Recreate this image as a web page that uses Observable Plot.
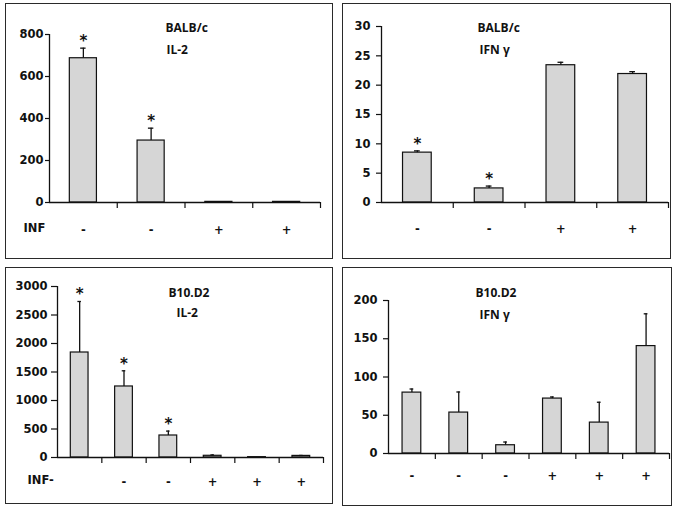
<!DOCTYPE html>
<html><head><meta charset="utf-8">
<script src="https://cdn.jsdelivr.net/npm/d3@7"></script>
<script src="https://cdn.jsdelivr.net/npm/@observablehq/plot@0.6"></script>
<style>
body{margin:0;background:#fff;width:675px;height:509px;position:relative;overflow:hidden;font-family:"DejaVu Sans",sans-serif}
.frame{position:absolute;border:1.5px solid #2a2a2a;box-sizing:border-box}
.panel{position:absolute}
.panel svg{overflow:visible}
</style></head><body>
<script>
// Panel A: BALB/c IL-2
const balbIl2Labels = ["-", "-", "+", "+"];
const balbIl2Values = [687, 295, 3, 3];
const balbIl2Upper  = [735, 354, 3, 3];
const balbIl2Stars  = [true, true, false, false];
const balbIl2Ticks  = [0, 200, 400, 600, 800];

// Panel B: BALB/c IFN gamma
const balbIfnLabels = ["-", "-", "+", "+"];
const balbIfnValues = [8.5, 2.4, 23.4, 21.9];
const balbIfnUpper  = [8.8, 2.8, 23.9, 22.3];
const balbIfnStars  = [true, true, false, false];
const balbIfnTicks  = [0, 5, 10, 15, 20, 25, 30];

// Panel C: B10.D2 IL-2
const b10Il2Labels = ["", "-", "-", "+", "+", "+"];
const b10Il2Values = [1842, 1246, 386, 30, 6, 28];
const b10Il2Upper  = [2737, 1521, 463, 45, 6, 36];
const b10Il2Stars  = [true, true, true, false, false, false];
const b10Il2Ticks  = [0, 500, 1000, 1500, 2000, 2500, 3000];

// Panel D: B10.D2 IFN gamma
const b10IfnLabels = ["-", "-", "-", "+", "+", "+"];
const b10IfnValues = [79.6, 53.5, 10.8, 71.8, 40.4, 140.4];
const b10IfnUpper  = [84.3, 80.4, 15, 73.9, 67, 182.6];
const b10IfnStars  = [false, false, false, false, false, false];
const b10IfnTicks  = [0, 50, 100, 150, 200];

const tickFont = {fontFamily: "DejaVu Sans", fontSize: 11.5, fontWeight: "bold"};
const titleFont = {fontFamily: "Open Sans", fontSize: 12, fontWeight: "bold"};

function drawPanel(cfg) {
  const n = cfg.values.length;
  const rows = cfg.values.map((v, i) => ({i, v, up: cfg.upper[i], star: cfg.stars[i], label: cfg.labels[i]}));
  const errs = rows.filter(d => d.up > d.v);
  const yMax = cfg.ticks[cfg.ticks.length - 1];
  const ink = "#111";
  const marks = [
    Plot.axisY({ticks: cfg.ticks, tickSize: cfg.yTickSize, tickPadding: cfg.yTickPad, label: null, tickFormat: d3.format("d"), stroke: ink, strokeWidth: 1.2, fill: ink, ...tickFont}),
    Plot.rectY(rows, {x1: d => d.i + 0.3, x2: d => d.i + 0.7, y1: 0, y2: "v", fill: "#d6d6d6", stroke: ink, strokeWidth: 1.2}),
    Plot.ruleX(errs, {x: d => d.i + 0.5, y1: "v", y2: "up", stroke: ink, strokeWidth: 1.3}),
    Plot.ruleY(errs, {y: "up", x1: d => d.i + 0.46, x2: d => d.i + 0.54, stroke: ink, strokeWidth: 1.3}),
    Plot.ruleX([0], {y1: 0, y2: yMax, stroke: ink, strokeWidth: 1.3}),
    Plot.ruleY([0], {stroke: ink, strokeWidth: 1.3}),
    Plot.axisX({ticks: d3.range(1, n + 1), tickSize: 6, tickFormat: () => "", label: null, stroke: ink, strokeWidth: 1.2}),
    Plot.axisX({ticks: rows.map(d => d.i + 0.5), tickSize: 0, tickPadding: cfg.labelPad, tickFormat: d => rows[Math.floor(d)].label, label: null, fill: ink, ...tickFont}),
    Plot.text(rows.filter(d => d.star), {x: d => d.i + 0.5, y: "up", text: () => "*", dy: -7, fontSize: 15, fontFamily: "DejaVu Sans", fontWeight: "bold", fill: ink}),
    Plot.text([cfg.title1], {frameAnchor: "top-left", textAnchor: "start", dx: cfg.t1[0], dy: cfg.t1[1], fill: ink, ...titleFont}),
    Plot.text([cfg.title2], {frameAnchor: "top-left", textAnchor: "start", dx: cfg.t2[0], dy: cfg.t2[1], fill: ink, ...titleFont})
  ];
  if (cfg.rowLabel) {
    marks.push(Plot.text([cfg.rowLabel], {frameAnchor: "bottom-left", textAnchor: "start", dx: cfg.rl[0], dy: cfg.rl[1], fill: ink, ...tickFont}));
  }
  const svg = Plot.plot({
    width: cfg.w, height: cfg.h,
    marginLeft: cfg.m[0], marginTop: cfg.m[1], marginRight: cfg.m[2], marginBottom: cfg.m[3],
    style: {fontFamily: "DejaVu Sans", fontSize: "11.5px", fontWeight: "bold", color: ink, background: "transparent"},
    x: {domain: [0, n], axis: null},
    y: {domain: [0, yMax], axis: null},
    marks
  });
  const frame = document.createElement("div");
  frame.className = "frame";
  Object.assign(frame.style, {left: cfg.left + "px", top: cfg.top + "px", width: cfg.w + "px", height: cfg.h + "px"});
  document.body.appendChild(frame);
  const holder = document.createElement("div");
  holder.className = "panel";
  Object.assign(holder.style, {left: cfg.left + "px", top: cfg.top + "px"});
  holder.appendChild(svg);
  document.body.appendChild(holder);
}

drawPanel({left: 5, top: 3, w: 328, h: 256, m: [44, 31, 13, 57],
  labels: balbIl2Labels, values: balbIl2Values, upper: balbIl2Upper, stars: balbIl2Stars, ticks: balbIl2Ticks,
  yTickSize: 4, yTickPad: 2, labelPad: 23,
  title1: "BALB/c", t1: [116, -11], title2: "IL-2", t2: [117, 11],
  rowLabel: "INF", rl: [-26, 29]});

drawPanel({left: 342, top: 3, w: 329, h: 256, m: [39, 23, 3, 57],
  labels: balbIfnLabels, values: balbIfnValues, upper: balbIfnUpper, stars: balbIfnStars, ticks: balbIfnTicks,
  yTickSize: 5, yTickPad: 6, labelPad: 22,
  title1: "BALB/c", t1: [96, -3], title2: "IFN γ", t2: [98, 19]});

drawPanel({left: 5, top: 267, w: 328, h: 237, m: [52, 19, 10, 47],
  labels: b10Il2Labels, values: b10Il2Values, upper: b10Il2Upper, stars: b10Il2Stars, ticks: b10Il2Ticks,
  yTickSize: 6, yTickPad: 4, labelPad: 20,
  title1: "B10.D2", t1: [111, 2], title2: "IL-2", t2: [119, 22],
  rowLabel: "INF-", rl: [-30, 26]});

drawPanel({left: 342, top: 267, w: 330, h: 239, m: [46, 33, 3, 53],
  labels: b10IfnLabels, values: b10IfnValues, upper: b10IfnUpper, stars: b10IfnStars, ticks: b10IfnTicks,
  yTickSize: 5, yTickPad: 6, labelPad: 18,
  title1: "B10.D2", t1: [87, -12], title2: "IFN γ", t2: [91, 10]});
</script>
</body></html>
